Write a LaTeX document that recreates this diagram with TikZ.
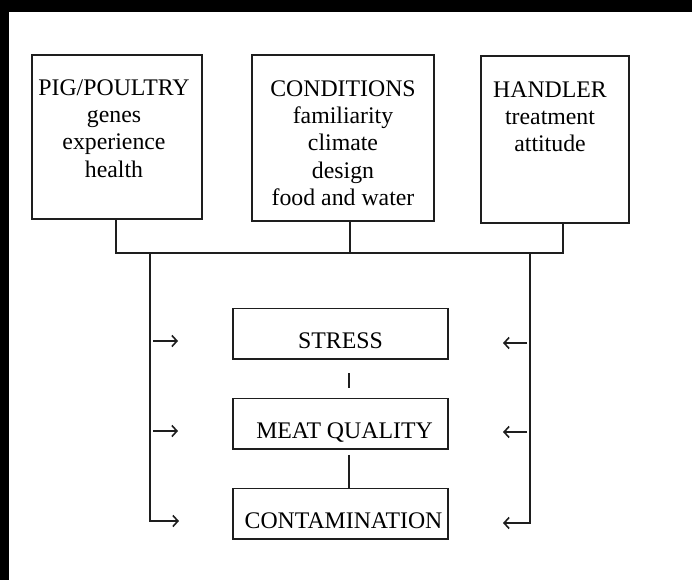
\documentclass[tikz,border=0pt]{standalone}
\usepackage{fontspec}
\setmainfont{Liberation Serif}
\usetikzlibrary{arrows.meta,calc}
\definecolor{ink}{HTML}{1E1E1E}
\begin{document}
\begin{tikzpicture}[x=1pt,y=-1pt,
  frame/.style={draw=ink, line width=1.7pt, inner sep=0pt},
  txt/.style={align=center, inner sep=0pt, text=black, font=\fontsize{23.8}{27.4}\selectfont},
  lowbox/.style={frame, text=black, font=\fontsize{23.8}{27.4}\selectfont, minimum width=215pt, text height=39.5pt, text depth=11pt, anchor=base},
  wire/.style={draw=ink, line width=1.7pt},
  arr/.style={wire, -{Straight Barb[length=5pt,width=11pt,line width=1.6pt]}}
]
\useasboundingbox (0,0) rectangle (692,580);
\fill[white] (0,0) rectangle (692,580);
\fill[black] (0,0) rectangle (692,12);
\fill[black] (0,0) rectangle (9,580);

% top boxes
\node[frame, minimum width=170pt, minimum height=164pt] (pig) at (117,137) {};
\node[frame, minimum width=182pt, minimum height=166pt] (cond) at (343,138) {};
\node[frame, minimum width=148pt, minimum height=167pt] (hdl) at (555,139.5) {};
\node[txt, anchor=north] (pigtxt) at (114,79.2) {PIG/POULTRY\\genes\\experience\\health};
\node[txt, anchor=north] (condtxt) at (343,80.2) {CONDITIONS\\familiarity\\climate\\design\\food and water};
\node[txt, anchor=north] (hdltxt) at (550,81.2) {HANDLER\\treatment\\attitude};

% lower boxes
\node[lowbox] (stress) at (340.5,348) {STRESS};
\node[lowbox] (meat) at (340.5,438) {\hspace*{8pt}MEAT QUALITY};
\node[lowbox] (contam) at (340.5,528) {\hspace*{6pt}CONTAMINATION};

% bus
\coordinate (busL) at (116,253);
\coordinate (busC) at (350,253);
\coordinate (busR) at (563,253);
\draw[wire] (pig.south -| busL) -- (busL) -- (busR) -- (hdl.south -| busR);
\draw[wire] (cond.south -| busC) -- (busC);

% side feeds
\coordinate (lTop) at (150,253);
\coordinate (lBot) at (150,521);
\coordinate (rTop) at (530,253);
\coordinate (rBot) at (530,523);
\coordinate (lEnd3) at (179,521);
\coordinate (rEnd3) at (503,523);
\draw[arr] (lTop) -- (lBot) -- (lEnd3);
\draw[arr] (rTop) -- (rBot) -- (rEnd3);

\coordinate (lS1) at (153,341);  \coordinate (lE1) at (178,341);
\coordinate (lS2) at (153,431);  \coordinate (lE2) at (178,431);
\coordinate (rS1) at (527,343);  \coordinate (rE1) at (503,343);
\coordinate (rS2) at (527,432);  \coordinate (rE2) at (503,432);
\draw[arr] (lS1) -- (lE1);
\draw[arr] (lS2) -- (lE2);
\draw[arr] (rS1) -- (rE1);
\draw[arr] (rS2) -- (rE2);

% chain between lower boxes
\coordinate (t1) at (349,373);
\coordinate (t2) at (349,388);
\draw[wire] (t1) -- (t2);
\draw[wire] ([xshift=8.5pt,yshift=-5pt]meat.south) -- ([xshift=8.5pt]contam.north);
\end{tikzpicture}
\end{document}
